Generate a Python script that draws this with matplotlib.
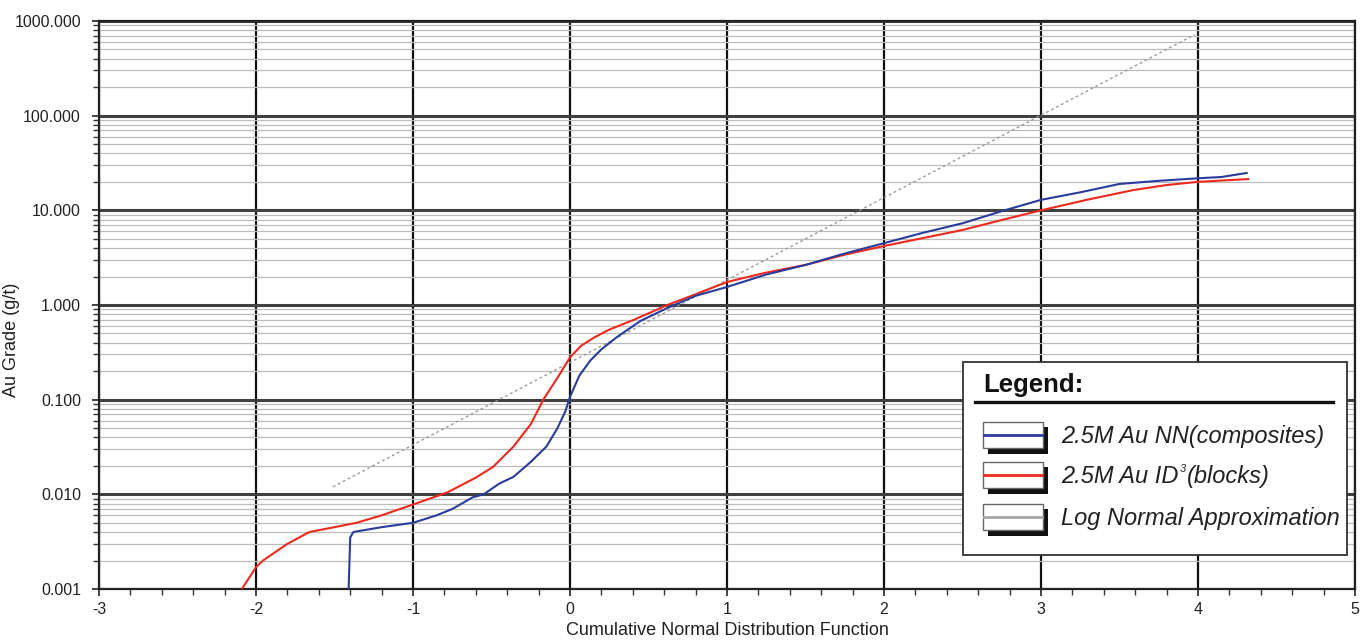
import matplotlib
matplotlib.use("Agg")
import matplotlib.pyplot as plt
import matplotlib.ticker as mticker
from matplotlib.patches import Rectangle
from matplotlib.lines import Line2D

plt.rcParams['font.family'] = ['Liberation Sans', 'DejaVu Sans']
plt.rcParams['axes.unicode_minus'] = False

# Probability plot data: normal score (x) vs Au grade g/t (y)
nn_x = [-1.41, -1.40, -1.38, -1.2, -1.0, -0.85, -0.75, -0.62, -0.55, -0.45, -0.36,
        -0.25, -0.15, -0.08, -0.03, 0.0, 0.06, 0.13, 0.2, 0.3, 0.45, 0.62, 0.8, 1.0, 1.25,
        1.5, 1.75, 2.0, 2.25, 2.5, 2.75, 3.0, 3.25, 3.5, 3.75, 4.0, 4.15, 4.31]
nn_y = [0.001, 0.0035, 0.004, 0.0045, 0.005, 0.006, 0.007, 0.0093, 0.010, 0.013, 0.0153,
        0.022, 0.032, 0.05, 0.075, 0.107, 0.18, 0.26, 0.34, 0.46, 0.68, 0.93, 1.25, 1.55, 2.1,
        2.65, 3.5, 4.5, 5.8, 7.3, 9.8, 12.9, 15.5, 19.0, 20.5, 21.8, 22.5, 24.8]

id_x = [-2.09, -2.0, -1.955, -1.8, -1.66, -1.5, -1.36, -1.2, -1.0, -0.78, -0.6, -0.49,
        -0.36, -0.25, -0.17, -0.08, 0.0, 0.07, 0.15, 0.25, 0.4, 0.62, 0.8, 1.0, 1.25,
        1.5, 1.75, 2.0, 2.25, 2.5, 2.75, 3.0, 3.3, 3.59, 3.8, 4.0, 4.32]
id_y = [0.001, 0.0017, 0.002, 0.003, 0.004, 0.0045, 0.005, 0.006, 0.0078, 0.0105, 0.015,
        0.0195, 0.032, 0.055, 0.1, 0.17, 0.28, 0.37, 0.45, 0.55, 0.69, 1.0, 1.3, 1.75,
        2.2, 2.65, 3.4, 4.2, 5.1, 6.2, 7.9, 10.0, 13.0, 16.4, 18.5, 20.0, 21.4]

# Log-normal approximation (straight line on the log-probability scale)
ln_x = [-1.51, 3.98]
ln_y = [0.012, 720.0]

x_ticks = [-3, -2, -1, 0, 1, 2, 3, 4, 5]
y_ticks = [0.001, 0.01, 0.1, 1, 10, 100, 1000]

legend_colors = ["#2a3c9c", "#ee2a1e", "#a8a8a8"]

W, H = 1369, 644
fig = plt.figure(figsize=(W / 100, H / 100), dpi=100)
ax = fig.add_axes([99 / W, 1 - 589 / H, (1355 - 99) / W, (589 - 21) / H])

ax.set_yscale('log')
ax.set_xlim(-3, 5)
ax.set_ylim(0.001, 1000)

# grid
ax.yaxis.set_minor_locator(mticker.LogLocator(base=10, subs=range(2, 10)))
ax.xaxis.set_minor_locator(mticker.MultipleLocator(0.2))
ax.set_xticks(x_ticks)
ax.set_yticks(y_ticks)
ax.yaxis.set_major_formatter(mticker.FuncFormatter(lambda v, p: f"{v:.3f}"))
ax.yaxis.set_minor_formatter(mticker.NullFormatter())
ax.grid(which='minor', axis='y', color='#bcbcbc', lw=0.9)
ax.grid(which='major', axis='y', color='#404040', lw=2.2)
ax.grid(which='major', axis='x', color='#111111', lw=1.6)
ax.set_axisbelow(True)

ax.tick_params(which='major', direction='out', length=5, width=1.2, colors='#222222',
               labelsize=11.5, labelcolor='#222222')
ax.tick_params(which='minor', direction='out', length=4, width=1.0, colors='#333333')
ax.tick_params(axis='x', pad=4)
ax.tick_params(axis='y', pad=8)
for s in ax.spines.values():
    s.set_color('#222222')
    s.set_linewidth(1.6)

ax.plot(ln_x, ln_y, color='#9a9a9a', lw=1.0, ls=(0, (2, 2)), zorder=3)
ax.plot(id_x, id_y, color=legend_colors[1], lw=1.5, zorder=4)
ax.plot(nn_x, nn_y, color=legend_colors[0], lw=1.5, zorder=5)

ax.set_xlabel("Cumulative Normal Distribution Function", fontsize=13, color='#222222',
              labelpad=4)
ax.set_ylabel("Au Grade (g/t)", fontsize=13, color='#222222')
ax.yaxis.set_label_coords(-(99 - 20) / (1355 - 99), (589 - 340) / (589 - 21))


# legend box drawn in figure pixel coordinates
def fx(px):
    return px / W


def fy(py):
    return 1 - py / H


def frect(x0, y0, x1, y1, **kw):
    fig.add_artist(Rectangle((fx(x0), fy(y1)), fx(x1) - fx(x0), fy(y0) - fy(y1),
                             transform=fig.transFigure, **kw))


frect(963, 362, 1347, 555, facecolor='white', edgecolor='#333333', lw=1.3, zorder=10)
fig.text(fx(983), fy(392), "Legend:", fontsize=18.5, fontweight='bold', color='#111111',
         ha='left', va='baseline', zorder=11)
fig.add_artist(Line2D([fx(975), fx(1333)], [fy(402), fy(402)], transform=fig.transFigure,
                      color='#111111', lw=2.4, zorder=11))

row_y = [435, 475, 517]
for yc, col in zip(row_y, legend_colors):
    frect(988, yc - 8, 1048, yc + 19, facecolor='#111111', edgecolor='none', zorder=11)
    frect(983, yc - 13, 1043, yc + 13, facecolor='white', edgecolor='#666666', lw=1.0, zorder=12)
    fig.add_artist(Line2D([fx(984), fx(1042)], [fy(yc), fy(yc)], transform=fig.transFigure,
                          color=col, lw=2.0, zorder=13))

txt_kw = dict(fontsize=17, fontstyle='italic', color='#222222', ha='left',
              va='baseline', zorder=13)
base = [yc + 8 for yc in row_y]
fig.text(fx(1061), fy(base[0]), "2.5M Au NN(composites)", **txt_kw)
fig.text(fx(1061), fy(base[2]), "Log Normal Approximation", **txt_kw)

# second entry has a small superscript
renderer = fig.canvas.get_renderer()
t1 = fig.text(fx(1061), fy(base[1]), "2.5M Au ID", **txt_kw)
x_end = t1.get_window_extent(renderer).x1
t2 = fig.text(x_end / W + fx(1), fy(base[1] - 11), "3", fontsize=8, fontstyle='italic',
              color='#222222', ha='left', va='baseline', zorder=13)
x_end2 = t2.get_window_extent(renderer).x1
fig.text(x_end2 / W + fx(1), fy(base[1]), "(blocks)", **txt_kw)

fig.savefig("out.png", dpi=100)
